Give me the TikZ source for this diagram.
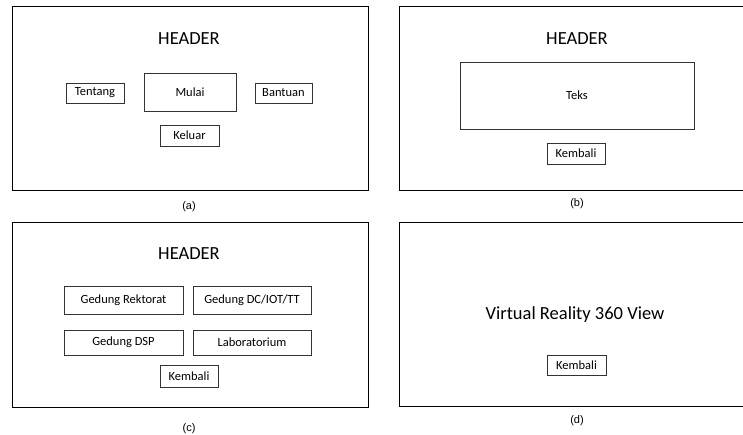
\documentclass[tikz,border=0pt]{standalone}
\usepackage{fontspec}
\setmainfont{Carlito}
\newfontfamily\capfont{Liberation Sans}
\usepackage{tikz}
\usetikzlibrary{positioning}

\begin{document}
\begin{tikzpicture}[x=1pt,y=-1pt,
	frame/.style={draw=black,line width=0.9pt},
	btn/.style={draw=black!80,line width=0.8pt,inner sep=0pt,font=\fontsize{12.5}{14}\selectfont},
	hdr/.style={inner sep=0pt,font=\fontsize{18.5}{21}\selectfont},
	captext/.style={inner sep=0pt,font=\capfont\fontsize{11}{13}\selectfont}]
		\useasboundingbox (0,0) rectangle (743,435);
		\clip (0,0) rectangle (743,435);
		% (a) menu utama
		\draw[frame] (12,6) rectangle (368,190);
		\node[hdr] (hdrA) at (189,39) {HEADER};
		\node[btn,minimum width=58pt,minimum height=20pt] (tentang) at (95,93) {Tentang};
		\node[btn,minimum width=92pt,minimum height=38pt] (mulai) at (190,92) {Mulai};
		\node[btn,minimum width=57pt,minimum height=20pt] (bantuan) at (283.5,93) {Bantuan};
		\node[btn,minimum width=59pt,minimum height=21pt] (keluar) at (189.5,135.5) {Keluar};
		\node[captext] (capA) at (189,207) {(a)};
		% (b) tentang / bantuan
		\draw[frame] (399,6) rectangle (760,190);
		\node[hdr] (hdrB) at (577,39) {HEADER};
		\node[btn,minimum width=234pt,minimum height=67pt] (teks) at (577,95.5) {Teks};
		\node[btn,minimum width=58pt,minimum height=21pt] (kembaliB) at (576,153.5) {Kembali};
		\node[captext] (capB) at (577,204) {(b)};
		% (c) pilih gedung
		\draw[frame] (12,222) rectangle (368,407);
		\node[hdr] (hdrC) at (189,254) {HEADER};
		\node[btn,minimum width=119pt,minimum height=28pt] (rektorat) at (123.5,300) {Gedung Rektorat};
		\node[btn,minimum width=118pt,minimum height=28pt] (dc) at (252,300) {Gedung DC/IOT/TT};
		\node[btn,minimum width=119pt,minimum height=25pt] (dsp) at (123.5,342.5) {Gedung DSP};
		\node[btn,minimum width=118pt,minimum height=25pt] (lab) at (252,342.5) {Laboratorium};
		\node[btn,minimum width=58pt,minimum height=22pt] (kembaliC) at (189,376) {Kembali};
		\node[captext] (capC) at (189,429) {(c)};
		% (d) tampilan vr
		\draw[frame] (399,222) rectangle (760,406);
		\node[hdr] (vr) at (575,315) {Virtual Reality 360 View};
		\node[btn,minimum width=59pt,minimum height=20pt] (kembaliD) at (576.5,365) {Kembali};
		\node[captext] (capD) at (577,421) {(d)};
	\end{tikzpicture}
\end{document}
